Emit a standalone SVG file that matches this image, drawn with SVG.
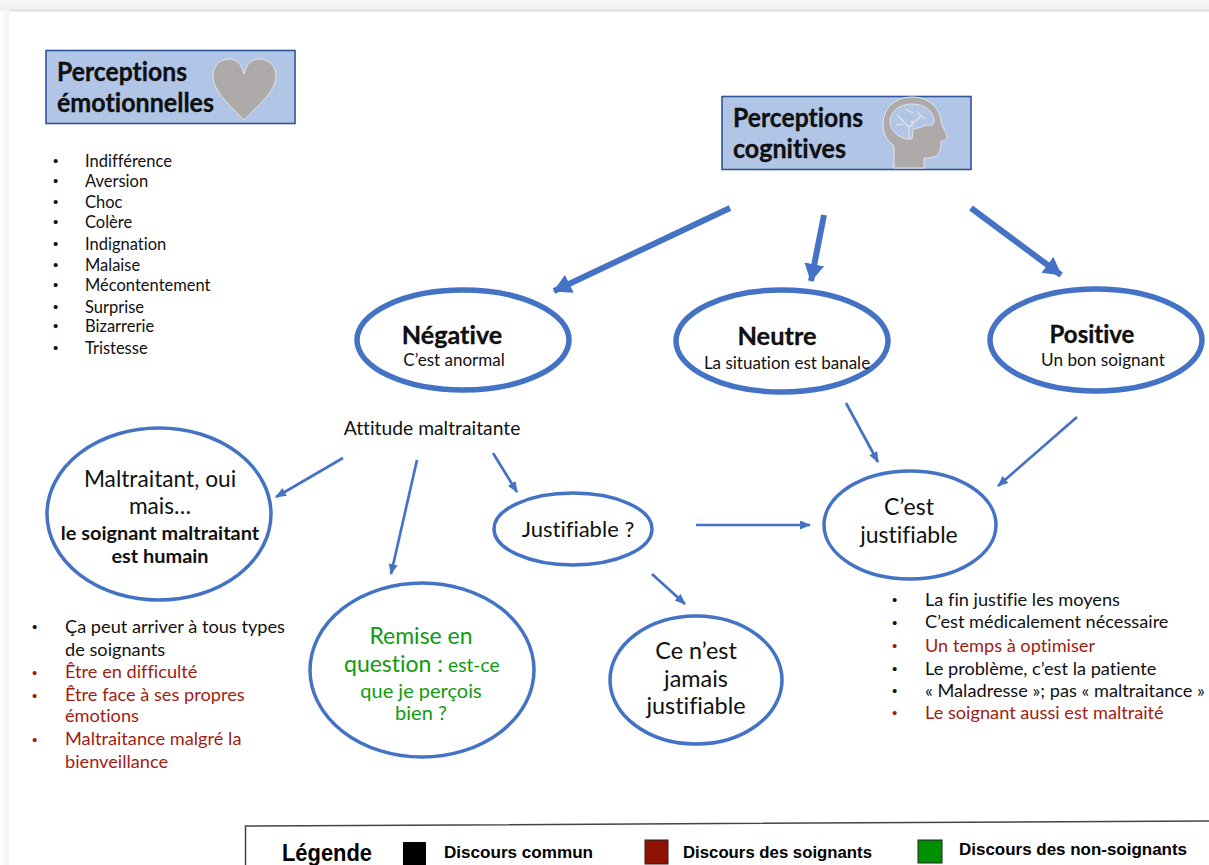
<svg xmlns="http://www.w3.org/2000/svg" width="1209" height="865" viewBox="0 0 1209 865">
<defs>
<linearGradient id="topShade" x1="0" y1="0" x2="0" y2="1"><stop offset="0" stop-color="#f8f8f8"/><stop offset="1" stop-color="#eeeeee"/></linearGradient>
<linearGradient id="leftShade" x1="0" y1="0" x2="1" y2="0"><stop offset="0" stop-color="#ffffff"/><stop offset="1" stop-color="#f2f2f2"/></linearGradient>
<marker id="big" markerUnits="userSpaceOnUse" markerWidth="20" markerHeight="22" refX="17" refY="10" orient="auto"><path d="M0 0L18 10L0 20Z" fill="#4472c4"/></marker>
<marker id="small" markerUnits="userSpaceOnUse" markerWidth="12" markerHeight="10" refX="10" refY="4.5" orient="auto"><path d="M0 0L11 4.5L0 9Z" fill="#4472c4"/></marker>
</defs>
<style>
text{font-family:"Lato","Open Sans","Liberation Sans",sans-serif;fill:#111;font-variant-ligatures:none}
.title{font-size:27px;font-weight:700;stroke:#000;stroke-width:.3px}
.li{font-size:16.5px}
.lo{font-size:18.2px}
.bu{font-size:15px;font-family:"Liberation Sans",sans-serif}
.red{fill:#a01c14}
.grn{fill:#0f9a0f}
.box{fill:#b1c6e6;stroke:#2f5597;stroke-width:1.6}
.el{fill:#fff;stroke:#4472c4}
.b{font-weight:700}
.lg{font-family:"Liberation Sans",sans-serif;font-weight:700;font-size:17px;fill:#000}
.big{stroke:#4472c4;stroke-width:6;fill:none;marker-end:url(#big)}
.thin{stroke:#4472c4;stroke-width:2.700;fill:none;marker-end:url(#small)}
.m{text-anchor:middle}
</style>
<rect width="1209" height="865" fill="#fff"/>
<rect x="0" y="0" width="1209" height="10" fill="url(#topShade)"/>
<rect x="0" y="10" width="1209" height="1.4" fill="#dcdcdc"/>
<rect x="0" y="10" width="9" height="855" fill="url(#leftShade)"/>

<g id="connectors">
<path class="big" d="M730 208L554 291"/>
<path class="big" d="M824 215L811 281"/>
<path class="big" d="M971 208L1061 275"/>
<path class="thin" d="M846 403L878 462"/>
<path class="thin" d="M1077 417L998 486"/>
<path class="thin" d="M343 458L276 497"/>
<path class="thin" d="M417 460L391 574"/>
<path class="thin" d="M493 453L517 492"/>
<path class="thin" d="M696 525L810 525"/>
<path class="thin" d="M652 574L685 604"/>
</g>

<g id="node-emotions">
<rect class="box" x="46" y="50.500" width="249" height="73"/>
<path d="M244 120C232 107 213 92 213 76C213 65 221 59 229 59C236 59 241 63 244 74C247 63 252 59 259 59C268 59 276 65 276 76C276 92 256 107 244 120Z" fill="#aeaaaa" stroke="#e4e4e4" stroke-width="1"/>
<text class="title" x="57" y="81" textLength="130" lengthAdjust="spacingAndGlyphs">Perceptions</text>
<text class="title" x="57" y="112" textLength="157" lengthAdjust="spacingAndGlyphs">émotionnelles</text>
</g>

<g id="list-emotions">
<text class="bu" x="53" y="166">•</text><text class="li" x="85" y="167">Indifférence</text>
<text class="bu" x="53" y="186">•</text><text class="li" x="85" y="187">Aversion</text>
<text class="bu" x="53" y="207">•</text><text class="li" x="85" y="208">Choc</text>
<text class="bu" x="53" y="227">•</text><text class="li" x="85" y="228">Colère</text>
<text class="bu" x="53" y="249">•</text><text class="li" x="85" y="250">Indignation</text>
<text class="bu" x="53" y="270">•</text><text class="li" x="85" y="271">Malaise</text>
<text class="bu" x="53" y="290">•</text><text class="li" x="85" y="291">Mécontentement</text>
<text class="bu" x="53" y="312">•</text><text class="li" x="85" y="313">Surprise</text>
<text class="bu" x="53" y="331">•</text><text class="li" x="85" y="332">Bizarrerie</text>
<text class="bu" x="53" y="353">•</text><text class="li" x="85" y="354">Tristesse</text>
</g>

<g id="node-cognitive">
<rect class="box" x="722" y="96.500" width="249" height="73"/>
<path fill="#aeaaaa" stroke="#e4e4e4" stroke-width="1" d="M894 168L894 146C886 140 883 132 883 124C883 108 896 97 912 97C929 97 940 108 941 122C942 127 947 133 947 137C947 140 944 141 941 141C941 147 941 152 936 156C932 158 928 158 924 158L924 168Z"/>
<path fill="#b1c6e6" stroke="#e4e4e4" stroke-width="1" d="M906 139C898 137 890 130 890 122C890 111 900 104 912 104C924 104 934 111 934 121C934 126 928 126 926 125C922 128 916 128 913 129L912 139Z"/>
<path fill="none" stroke="#e4e4e4" stroke-width="1.200" d="M909 138L909 127L897 115M909 127L921 116L926 119M913 113L905 109M917 111L921 116M896 125L904 124M912 127L912 120"/>
<text class="title" x="733" y="127" textLength="130" lengthAdjust="spacingAndGlyphs">Perceptions</text>
<text class="title" x="733" y="158" textLength="113" lengthAdjust="spacingAndGlyphs">cognitives</text>
</g>

<g id="node-negative">
<ellipse class="el" stroke-width="5.500" cx="463" cy="340" rx="106" ry="50"/>
<text class="m title" x="452" y="344" style="font-size:25.200px">Négative</text>
<text class="m" x="454" y="366" style="font-size:17px">C’est anormal</text>
</g>
<g id="node-neutre">
<ellipse class="el" stroke-width="5.500" cx="782" cy="341" rx="106" ry="51"/>
<text class="m title" x="777" y="345" style="font-size:25.400px">Neutre</text>
<text class="m" x="787" y="369" style="font-size:17px">La situation est banale</text>
</g>
<g id="node-positive">
<ellipse class="el" stroke-width="5.500" cx="1096" cy="340" rx="106" ry="51"/>
<text class="m title" x="1092" y="343" style="font-size:24px">Positive</text>
<text class="m" x="1103" y="366" style="font-size:17.200px">Un bon soignant</text>
</g>

<g id="label-attitude"><text class="m" x="432" y="435" style="font-size:19.300px">Attitude maltraitante</text></g>

<g id="node-oui-mais">
<ellipse class="el" stroke-width="3.500" cx="159" cy="514" rx="112" ry="86"/>
<text class="m" x="160" y="487" style="font-size:22.700px">Maltraitant, oui</text>
<text class="m" x="160" y="514" style="font-size:22.700px">mais…</text>
<text class="m b" x="160" y="540" style="font-size:19.900px">le soignant maltraitant</text>
<text class="m b" x="160" y="563" style="font-size:19.900px">est humain</text>
</g>

<g id="list-oui-mais">
<text class="bu" x="32" y="632">•</text><text class="lo" x="65" y="633">Ça peut arriver à tous types</text>
<text class="lo" x="65" y="656">de soignants</text>
<text class="bu red" x="32" y="678">•</text><text class="lo red" x="65" y="678">Être en difficulté</text>
<text class="bu red" x="32" y="701">•</text><text class="lo red" x="65" y="701">Être face à ses propres</text>
<text class="lo red" x="65" y="722">émotions</text>
<text class="bu red" x="32" y="745">•</text><text class="lo red" x="65" y="745">Maltraitance malgré la</text>
<text class="lo red" x="65" y="768">bienveillance</text>
</g>

<g id="node-remise">
<ellipse class="el" stroke-width="3.500" cx="422" cy="670" rx="112" ry="87"/>
<text class="m grn" x="421" y="644" style="font-size:23px">Remise en</text>
<text class="grn" x="344" y="672" style="font-size:23px">question :<tspan style="font-size:19.200px"> est-ce</tspan></text>
<text class="m grn" x="421" y="698" style="font-size:20px">que je perçois</text>
<text class="m grn" x="421" y="720" style="font-size:20px">bien ?</text>
</g>

<g id="node-justifiable-q">
<ellipse class="el" stroke-width="3.500" cx="573" cy="529" rx="79" ry="36"/>
<text class="m" x="578" y="537" style="font-size:22px">Justifiable ?</text>
</g>

<g id="node-jamais">
<ellipse class="el" stroke-width="3.500" cx="696" cy="680" rx="86" ry="64"/>
<text class="m" x="696" y="659" style="font-size:23.400px">Ce n’est</text>
<text class="m" x="696" y="687" style="font-size:23.400px">jamais</text>
<text class="m" x="696" y="714" style="font-size:23.400px">justifiable</text>
</g>

<g id="node-cest-justifiable">
<ellipse class="el" stroke-width="3.500" cx="910" cy="525" rx="86" ry="54"/>
<text class="m" x="909" y="515" style="font-size:23px">C’est</text>
<text class="m" x="909" y="543" style="font-size:23px">justifiable</text>
</g>

<g id="list-justifiable">
<text class="bu" x="892" y="605">•</text><text class="lo" x="925" y="606">La fin justifie les moyens</text>
<text class="bu" x="892" y="628">•</text><text class="lo" x="925" y="628">C’est médicalement nécessaire</text>
<text class="bu red" x="892" y="651">•</text><text class="lo red" x="925" y="652">Un temps à optimiser</text>
<text class="bu" x="892" y="674">•</text><text class="lo" x="925" y="675">Le problème, c’est la patiente</text>
<text class="bu" x="892" y="696">•</text><text class="lo" x="925" y="697">« Maladresse »; pas « maltraitance »</text>
<text class="bu red" x="892" y="718">•</text><text class="lo red" x="925" y="719">Le soignant aussi est maltraité</text>
</g>

<g id="legend">
<path d="M245.500 865L245.500 826L1209 821" fill="none" stroke="#444" stroke-width="1.500"/>
<text class="lg" x="282" y="861" textLength="90" lengthAdjust="spacingAndGlyphs" style="font-size:23px">Légende</text>
<rect x="403" y="842" width="23" height="23" fill="#000"/>
<text class="lg" x="444" y="858" textLength="149" lengthAdjust="spacingAndGlyphs">Discours commun</text>
<rect x="645" y="840" width="23" height="24" fill="#8f1300" stroke="#222"/>
<text class="lg" x="683" y="858" textLength="189" lengthAdjust="spacingAndGlyphs">Discours des soignants</text>
<rect x="918" y="840" width="24" height="23" fill="#008f00" stroke="#222"/>
<text class="lg" x="959" y="855" textLength="228" lengthAdjust="spacingAndGlyphs">Discours des non-soignants</text>
</g>
</svg>
